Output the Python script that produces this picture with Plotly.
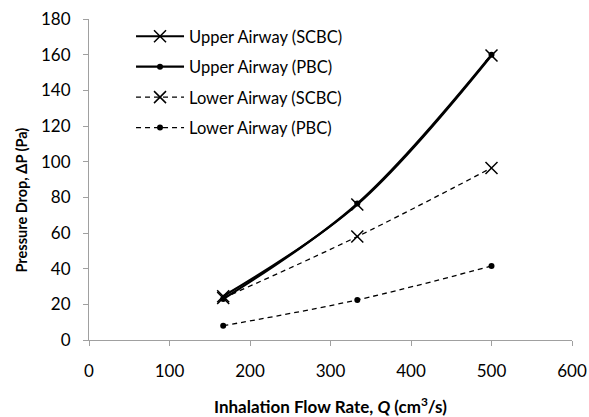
import plotly.graph_objects as go

flow = [166.7, 333.3, 500.0]
upper_scbc = [24.5, 76.0, 159.5]
upper_pbc = [23.0, 76.5, 160.0]
lower_scbc = [23.5, 58.0, 96.5]
lower_pbc = [8.0, 22.5, 41.5]

x_ticks = [0, 100, 200, 300, 400, 500, 600]
y_ticks = [0, 20, 40, 60, 80, 100, 120, 140, 160, 180]

FONT = "Lato, Open Sans, sans-serif"

fig = go.Figure()
xmark = dict(symbol="x-thin-open", size=12, color="black", line=dict(width=1.5, color="black"))
dot = dict(symbol="circle", size=6, color="black")

fig.add_trace(go.Scatter(x=flow, y=upper_scbc, mode="lines+markers", name="Upper Airway (SCBC)",
                         line=dict(color="black", width=2.2, shape="spline"), marker=xmark, legendgroup="a"))
fig.add_trace(go.Scatter(x=flow, y=upper_pbc, mode="lines+markers", name="Upper Airway (PBC)",
                         line=dict(color="black", width=2.2, shape="spline"), marker=dot, legendgroup="b"))
fig.add_trace(go.Scatter(x=flow, y=lower_scbc, mode="lines+markers", name="Lower Airway (SCBC)",
                         line=dict(color="black", width=1.3, dash="5px,4px", shape="spline"), marker=xmark, legendgroup="c"))
fig.add_trace(go.Scatter(x=flow, y=lower_pbc, mode="lines+markers", name="Lower Airway (PBC)",
                         line=dict(color="black", width=1.3, dash="5px,4px", shape="spline"), marker=dot, legendgroup="d"))

axis_common = dict(showgrid=False, zeroline=False, showline=True, linecolor="#a0a0a0", linewidth=1,
                   ticks="outside", tickcolor="#a0a0a0", ticklen=5, automargin=False,
                   tickfont=dict(family=FONT, size=17, color="black"))

fig.update_layout(
    width=589, height=417,
    margin=dict(l=89, r=17, t=19, b=77),
    paper_bgcolor="white", plot_bgcolor="white",
    font=dict(family=FONT, color="black"),
    xaxis=dict(range=[0, 600], tickvals=x_ticks, ticktext=[str(v) for v in x_ticks],
               ticklabelstandoff=11, **axis_common),
    yaxis=dict(range=[0, 180], tickvals=y_ticks, ticktext=[str(v) for v in y_ticks],
               ticklabelstandoff=9, **axis_common),
    legend=dict(x=0.087, y=1.0, xanchor="left", yanchor="top", bgcolor="rgba(0,0,0,0)",
                font=dict(size=16.5, color="black"), itemwidth=48, tracegroupgap=6, traceorder="grouped"),
    annotations=[
        dict(text="<b>Inhalation Flow Rate, <i>Q</i> (cm<sup>3</sup>/s)</b>", xref="paper", yref="paper",
             x=0.5, y=0, yshift=-65, xanchor="center", yanchor="middle", showarrow=False,
             font=dict(family=FONT, size=17, color="black")),
        dict(text="<b>Pressure Drop, ΔP (Pa)</b>", xref="paper", yref="paper",
             x=0, y=0.5, xshift=-68, yshift=-21, xanchor="center", yanchor="middle", textangle=-90, showarrow=False,
             font=dict(family=FONT, size=14.5, color="black")),
    ],
)

fig.write_html("out.html", config={"displayModeBar": False},
               post_script="document.body.style.margin='0';document.body.style.padding='0';")
